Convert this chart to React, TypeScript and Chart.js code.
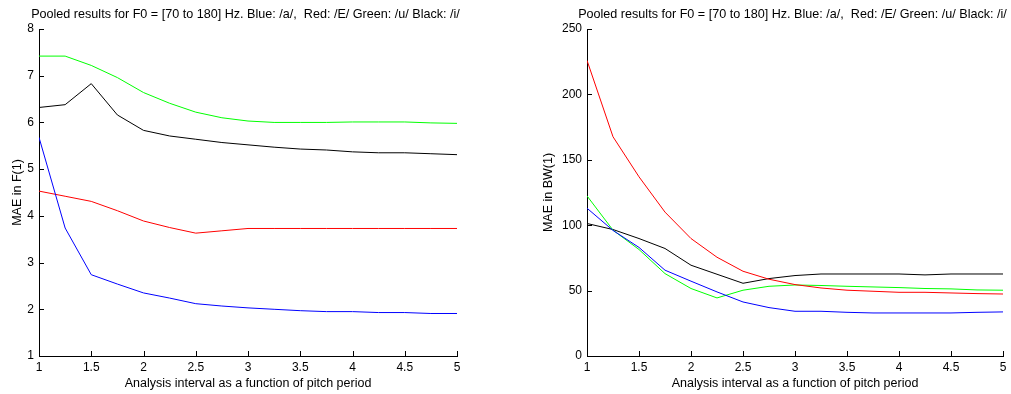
import React, { useEffect, useRef } from "react";
import { Chart, registerables } from "chart.js";

Chart.register(...registerables);

const intervals = [1, 1.25, 1.5, 1.75, 2, 2.25, 2.5, 2.75, 3, 3.25, 3.5, 3.75, 4, 4.25, 4.5, 4.75, 5];

// Left panel: MAE in F(1)
const f1Blue = [5.68, 3.74, 2.74, 2.54, 2.35, 2.24, 2.12, 2.07, 2.03, 2.0, 1.97, 1.95, 1.95, 1.93, 1.93, 1.91, 1.91];
const f1Red = [4.53, 4.42, 4.31, 4.11, 3.89, 3.75, 3.63, 3.68, 3.73, 3.73, 3.73, 3.73, 3.73, 3.73, 3.73, 3.73, 3.73];
const f1Green = [7.42, 7.42, 7.22, 6.96, 6.64, 6.41, 6.22, 6.1, 6.03, 6.0, 6.0, 6.0, 6.01, 6.01, 6.01, 5.99, 5.98];
const f1Black = [6.32, 6.38, 6.83, 6.16, 5.83, 5.71, 5.64, 5.57, 5.52, 5.47, 5.43, 5.41, 5.37, 5.35, 5.35, 5.33, 5.31];

// Right panel: MAE in BW(1)
const bwBlue = [113, 96, 83, 65.6, 57.2, 49, 41.3, 37, 34.2, 34.2, 33.4, 32.9, 32.9, 32.9, 32.9, 33.4, 33.7];
const bwRed = [226, 167.6, 137, 110, 89.8, 75.5, 64.8, 58.7, 54.6, 52, 50.3, 49.5, 48.7, 48.7, 48.2, 47.7, 47.4];
const bwGreen = [122.4, 96.2, 81.4, 63, 51.6, 44.4, 50.3, 53.3, 54.3, 53.9, 53.3, 52.8, 52.3, 51.6, 51.3, 50.5, 50.3];
const bwBlack = [101.3, 96.7, 89.8, 82.2, 69.4, 62.5, 55.6, 59.2, 61.5, 62.7, 62.7, 62.7, 62.7, 62, 62.7, 62.7, 62.7];

const titleText = "Pooled results for F0 = [70 to 180] Hz. Blue: /a/,  Red: /E/ Green: /u/ Black: /i/";
const xTitle = "Analysis interval as a function of pitch period";
const leftYTitle = "MAE in F(1)";
const rightYTitle = "MAE in BW(1)";

const FONT = "'Liberation Sans', Arial, Helvetica, sans-serif";

const inwardTicks = {
  id: "inwardTicks",
  afterDraw(chart: any) {
    const { ctx, chartArea, scales } = chart;
    ctx.save();
    ctx.strokeStyle = "#000";
    ctx.lineWidth = 1;
    ctx.beginPath();
    scales.x.ticks.forEach((t: any) => {
      const px = Math.round(scales.x.getPixelForValue(t.value)) + 0.5;
      ctx.moveTo(px, chartArea.bottom);
      ctx.lineTo(px, chartArea.bottom - 5);
    });
    scales.y.ticks.forEach((t: any) => {
      const py = Math.round(scales.y.getPixelForValue(t.value)) + 0.5;
      ctx.moveTo(chartArea.left, py);
      ctx.lineTo(chartArea.left + 5, py);
    });
    ctx.stroke();
    ctx.restore();
  },
};

const topTitle = {
  id: "topTitle",
  afterDraw(chart: any) {
    const { ctx, chartArea } = chart;
    ctx.save();
    ctx.fillStyle = "#000";
    ctx.font = `12.6px ${FONT}`;
    ctx.textAlign = "center";
    ctx.textBaseline = "middle";
    ctx.fillText(titleText, (chartArea.left + chartArea.right) / 2 - 2.5, 15);
    ctx.restore();
  },
};

function makeChart(
  canvas: HTMLCanvasElement,
  series: number[][],
  yMin: number,
  yMax: number,
  yStep: number,
  yTitle: string,
  yAxisWidth: number,
  yTitlePad: number,
  rightPad: number
) {
  const colors = ["#0000ff", "#ff0000", "#00ff00", "#000000"];
  const datasets = series.map((s, i) => ({
    data: s.map((v, j) => ({ x: intervals[j], y: v })),
    borderColor: colors[i],
    borderWidth: 1,
    pointRadius: 0,
    fill: false,
    tension: 0,
  }));
  return new Chart(canvas, {
    type: "line",
    data: { datasets },
    options: {
      animation: false,
      responsive: false,
      maintainAspectRatio: false,
      layout: { padding: { top: 29, right: rightPad, bottom: 0, left: 0 } },
      plugins: { legend: { display: false }, tooltip: { enabled: false }, title: { display: false } },
      scales: {
        x: {
          type: "linear",
          min: 1,
          max: 5,
          grid: { display: false, drawTicks: false },
          border: { display: true, color: "#000", width: 1 },
          ticks: {
            stepSize: 0.5,
            color: "#000",
            font: { family: FONT, size: 12 },
            padding: 4,
            maxRotation: 0,
            autoSkip: false,
            callback: (v: any) => String(v),
          },
          title: {
            display: true,
            text: xTitle,
            color: "#000",
            font: { family: FONT, size: 12.5 },
            padding: { top: 0, bottom: 3 },
          },
          afterFit: (scale: any) => {
            scale.height = 38;
          },
        },
        y: {
          type: "linear",
          min: yMin,
          max: yMax,
          grid: { display: false, drawTicks: false },
          border: { display: true, color: "#000", width: 1 },
          ticks: {
            stepSize: yStep,
            color: "#000",
            font: { family: FONT, size: 12 },
            padding: 5,
            callback: (v: any) => String(v),
          },
          title: {
            display: true,
            text: yTitle,
            color: "#000",
            font: { family: FONT, size: 12.5 },
            padding: { top: yTitlePad, bottom: 0 },
          },
          afterFit: (scale: any) => {
            scale.width = yAxisWidth;
          },
        },
      },
    },
    plugins: [inwardTicks, topTitle],
  } as any);
}

export default function App() {
  const leftRef = useRef<HTMLCanvasElement>(null);
  const rightRef = useRef<HTMLCanvasElement>(null);

  useEffect(() => {
    const c1 = makeChart(leftRef.current!, [f1Blue, f1Red, f1Green, f1Black], 1, 8, 1, leftYTitle, 39, 10, 48);
    const c2 = makeChart(rightRef.current!, [bwBlue, bwRed, bwGreen, bwBlack], 0, 250, 50, rightYTitle, 82, 36, 8);
    return () => {
      c1.destroy();
      c2.destroy();
    };
  }, []);

  return (
    <div style={{ position: "absolute", left: 0, top: 0, width: 1011, height: 394, background: "#fff" }}>
      <canvas ref={leftRef} width={505} height={394} style={{ position: "absolute", left: 0, top: 0 }} />
      <canvas ref={rightRef} width={506} height={394} style={{ position: "absolute", left: 505, top: 0 }} />
    </div>
  );
}
